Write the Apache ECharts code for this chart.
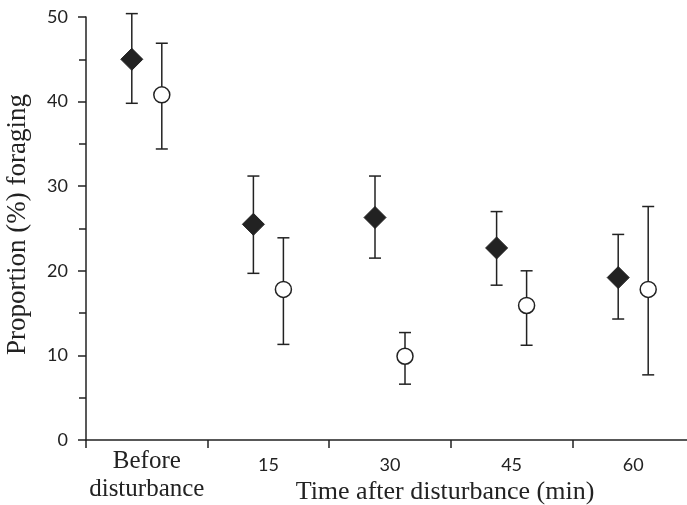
<!DOCTYPE html>
<html>
<head>
<meta charset="utf-8">
<script src="https://cdn.jsdelivr.net/npm/echarts@6/dist/echarts.min.js"></script>
<style>
html,body{margin:0;padding:0;background:#fff;}
#chart{width:687px;height:505px;}
</style>
</head>
<body>
<div id="chart"></div>
<script>
var categories = ['Before\ndisturbance', '15', '30', '45', '60'];
var diamondMean = [45.0, 25.5, 26.3, 22.7, 19.2];
var diamondLow  = [39.8, 19.7, 21.5, 18.3, 14.3];
var diamondHigh = [50.4, 31.2, 31.2, 27.0, 24.3];
var circleMean  = [40.8, 17.8, 9.9, 15.9, 17.8];
var circleLow   = [34.4, 11.3, 6.6, 11.2, 7.7];
var circleHigh  = [46.9, 23.9, 12.7, 20.0, 27.6];
var yTicks = [0, 10, 20, 30, 40, 50];

var INK = '#222';
var SERIF = '"Liberation Serif", "DejaVu Serif", serif';
var SANS = 'Lato, "Open Sans", sans-serif';

function build(mean, low, high) {
  return mean.map(function (m, i) { return [i, m, low[i], high[i]]; });
}

function makeRender(kind, dx) {
  return function (params, api) {
    var i = api.value(0);
    var c = api.coord([i, api.value(1)]);
    var lo = api.coord([i, api.value(2)]);
    var hi = api.coord([i, api.value(3)]);
    var x = c[0] + dx;
    var cap = 6;
    var lineStyle = { stroke: INK, lineWidth: 1.5 };
    var children = [
      { type: 'line', shape: { x1: x, y1: hi[1], x2: x, y2: lo[1] }, style: lineStyle },
      { type: 'line', shape: { x1: x - cap, y1: hi[1], x2: x + cap, y2: hi[1] }, style: lineStyle },
      { type: 'line', shape: { x1: x - cap, y1: lo[1], x2: x + cap, y2: lo[1] }, style: lineStyle }
    ];
    if (kind === 'diamond') {
      var h = 11;
      children.push({
        type: 'polygon',
        shape: { points: [[x, c[1] - h], [x + h, c[1]], [x, c[1] + h], [x - h, c[1]]] },
        style: { fill: INK, stroke: INK, lineWidth: 1 }
      });
    } else {
      children.push({
        type: 'circle',
        shape: { cx: x, cy: c[1], r: 8 },
        style: { fill: '#fff', stroke: INK, lineWidth: 1.5 }
      });
    }
    return { type: 'group', children: children };
  };
}

var chart = echarts.init(document.getElementById('chart'));
chart.setOption({
  animation: false,
  backgroundColor: '#fff',
  grid: { left: 86, top: 17, width: 608, bottom: 65, containLabel: false, outerBoundsMode: 'none' },
  xAxis: {
    type: 'category',
    data: categories,
    boundaryGap: true,
    axisLine: { lineStyle: { color: INK, width: 1.5 } },
    axisTick: { show: true, length: 8, inside: false, lineStyle: { color: INK, width: 1.5 } },
    axisLabel: {
      margin: 7,
      interval: 0,
      formatter: function (v) {
        if (v.indexOf('\n') >= 0) {
          return v.split('\n').map(function (s) { return '{s|' + s + '}'; }).join('\n');
        }
        return '{n|' + v + '}';
      },
      rich: {
        s: { fontFamily: SERIF, fontSize: 25, color: INK, lineHeight: 28 },
        n: { fontFamily: SANS, fontSize: 18, color: INK, lineHeight: 36 }
      }
    },
    splitLine: { show: false }
  },
  yAxis: {
    type: 'value',
    min: 0,
    max: 50,
    interval: 10,
    name: 'Proportion (%) foraging',
    nameLocation: 'middle',
    nameGap: 55,
    nameTextStyle: { fontFamily: SERIF, fontSize: 27, color: INK, padding: [0, 0, 0, 8] },
    axisLine: { show: true, lineStyle: { color: INK, width: 1.5 } },
    axisTick: { show: true, length: 8, inside: false, lineStyle: { color: INK, width: 1.5 } },
    minorTick: { show: true, splitNumber: 2, length: 7, lineStyle: { color: INK, width: 1.5 } },
    axisLabel: {
      margin: 18,
      fontFamily: SANS,
      fontSize: 18,
      color: INK,
      formatter: function (v) { return yTicks.indexOf(v) >= 0 ? String(v) : ''; }
    },
    splitLine: { show: false },
    minorSplitLine: { show: false }
  },
  graphic: [{
    type: 'text',
    x: 445,
    y: 492,
    style: {
      text: 'Time after disturbance (min)',
      font: '26px ' + SERIF,
      fill: INK,
      textAlign: 'center',
      textVerticalAlign: 'middle'
    }
  }],
  series: [
    {
      type: 'custom',
      name: 'diamond',
      renderItem: makeRender('diamond', -15),
      data: build(diamondMean, diamondLow, diamondHigh),
      encode: { x: 0, y: [1, 2, 3] },
      clip: false,
      z: 3
    },
    {
      type: 'custom',
      name: 'circle',
      renderItem: makeRender('circle', 15),
      data: build(circleMean, circleLow, circleHigh),
      encode: { x: 0, y: [1, 2, 3] },
      clip: false,
      z: 3
    }
  ]
});
</script>
</body>
</html>
